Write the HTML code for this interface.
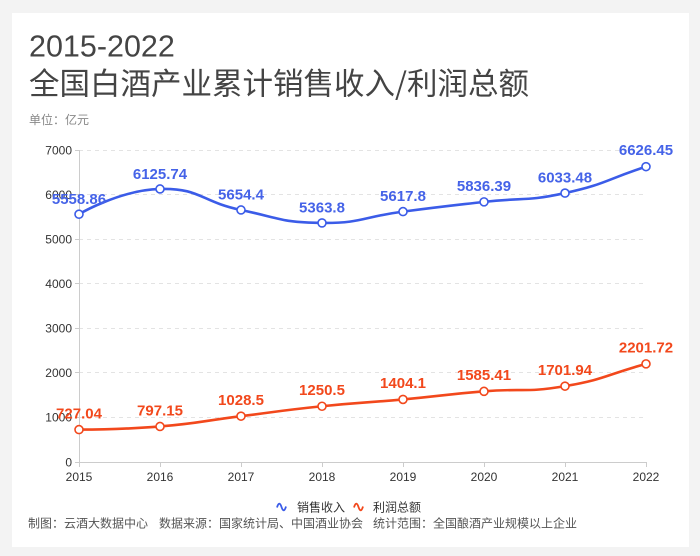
<!DOCTYPE html>
<html>
<head>
<meta charset="utf-8">
<style>
html,body{margin:0;padding:0;}
body{width:700px;height:556px;background:#f3f3f3;overflow:hidden;position:relative;}
.card{position:absolute;left:12px;top:13px;width:677px;height:534px;background:#ffffff;}
svg{position:absolute;left:0;top:0;}
text{font-family:"Liberation Sans","Noto Sans CJK SC",sans-serif;}
</style>
</head>
<body>
<div class="card"></div>
<svg width="700" height="556" viewBox="0 0 700 556" xmlns="http://www.w3.org/2000/svg">
  <!-- titles -->
  <text x="29" y="56.5" font-size="30.5" fill="#444444">2015-2022</text>
  <text x="29" y="94.5" font-size="30.5" fill="#444444" style="font-family:'Noto Sans CJK SC',sans-serif;">全国白酒产业累计销售收入/利润总额</text>
  <text x="29" y="124" font-size="12" fill="#888888">单位：亿元</text>

  <!-- grid -->
  <g stroke="#e3e3e3" stroke-width="1" stroke-dasharray="4,4" fill="none">
    <line x1="79" y1="150.5" x2="646" y2="150.5"/>
    <line x1="79" y1="194.5" x2="646" y2="194.5"/>
    <line x1="79" y1="239.5" x2="646" y2="239.5"/>
    <line x1="79" y1="283.5" x2="646" y2="283.5"/>
    <line x1="79" y1="328.5" x2="646" y2="328.5"/>
    <line x1="79" y1="372.5" x2="646" y2="372.5"/>
    <line x1="79" y1="417.5" x2="646" y2="417.5"/>
  </g>
  <!-- axes -->
  <g stroke="#cccccc" stroke-width="1" fill="none">
    <line x1="79.5" y1="150" x2="79.5" y2="462"/>
    <line x1="79" y1="462.5" x2="646.5" y2="462.5"/>
    <line x1="75" y1="150.5" x2="79" y2="150.5"/>
    <line x1="75" y1="194.5" x2="79" y2="194.5"/>
    <line x1="75" y1="239.5" x2="79" y2="239.5"/>
    <line x1="75" y1="283.5" x2="79" y2="283.5"/>
    <line x1="75" y1="328.5" x2="79" y2="328.5"/>
    <line x1="75" y1="372.5" x2="79" y2="372.5"/>
    <line x1="75" y1="417.5" x2="79" y2="417.5"/>
    <line x1="75" y1="462.5" x2="79" y2="462.5"/>
    <line x1="79.5" y1="462" x2="79.5" y2="467"/>
    <line x1="160.5" y1="462" x2="160.5" y2="467"/>
    <line x1="241.5" y1="462" x2="241.5" y2="467"/>
    <line x1="322.5" y1="462" x2="322.5" y2="467"/>
    <line x1="403.5" y1="462" x2="403.5" y2="467"/>
    <line x1="484.5" y1="462" x2="484.5" y2="467"/>
    <line x1="565.5" y1="462" x2="565.5" y2="467"/>
    <line x1="646.5" y1="462" x2="646.5" y2="467"/>
  </g>
  <!-- y labels -->
  <g font-size="12" fill="#333333" text-anchor="end">
    <text x="72" y="154.5">7000</text>
    <text x="72" y="199">6000</text>
    <text x="72" y="243.5">5000</text>
    <text x="72" y="288">4000</text>
    <text x="72" y="332.5">3000</text>
    <text x="72" y="377">2000</text>
    <text x="72" y="421.5">1000</text>
    <text x="72" y="466.5">0</text>
  </g>
  <!-- x labels -->
  <g font-size="12" fill="#333333" text-anchor="middle">
    <text x="79" y="481">2015</text>
    <text x="160" y="481">2016</text>
    <text x="241" y="481">2017</text>
    <text x="322" y="481">2018</text>
    <text x="403" y="481">2019</text>
    <text x="484" y="481">2020</text>
    <text x="565" y="481">2021</text>
    <text x="646" y="481">2022</text>
  </g>

  <!-- blue series -->
  <path d="M79,214.23 C79,214.23 119.5,190.03 160,188.97 C200.5,187.91 200.5,201.49 241,209.98 C281.5,218.47 281.5,222.52 322,222.93 C362.5,223.34 362.5,216.88 403,211.61 C443.5,206.34 443.5,206.50 484,201.87 C524.5,197.24 524.5,201.89 565,193.08 C605.5,184.27 605.5,179.86 646,166.65" fill="none" stroke="#3b5ce8" stroke-width="2.6" stroke-linejoin="round"/>
  <g fill="#ffffff" stroke="#3b5ce8" stroke-width="1.6">
    <circle cx="79" cy="214.23" r="4"/>
    <circle cx="160" cy="188.97" r="4"/>
    <circle cx="241" cy="209.98" r="4"/>
    <circle cx="322" cy="222.93" r="4"/>
    <circle cx="403" cy="211.61" r="4"/>
    <circle cx="484" cy="201.87" r="4"/>
    <circle cx="565" cy="193.08" r="4"/>
    <circle cx="646" cy="166.65" r="4"/>
  </g>
  <g font-size="15" font-weight="bold" fill="#4563e8" text-anchor="middle">
    <text x="79" y="204">5558.86</text>
    <text x="160" y="179">6125.74</text>
    <text x="241" y="199.5">5654.4</text>
    <text x="322" y="212.5">5363.8</text>
    <text x="403" y="201">5617.8</text>
    <text x="484" y="191">5836.39</text>
    <text x="565" y="182.5">6033.48</text>
    <text x="646" y="155">6626.45</text>
  </g>

  <!-- red series -->
  <path d="M79,429.60 C79,429.60 119.5,429.83 160,426.47 C200.5,423.11 200.5,421.21 241,416.16 C281.5,411.11 281.5,410.45 322,406.26 C362.5,402.07 362.5,403.15 403,399.42 C443.5,395.69 443.5,394.66 484,391.34 C524.5,388.02 524.5,393.01 565,386.14 C605.5,379.27 605.5,375.00 646,363.87" fill="none" stroke="#f2481c" stroke-width="2.6" stroke-linejoin="round"/>
  <g fill="#ffffff" stroke="#f2481c" stroke-width="1.6">
    <circle cx="79" cy="429.60" r="4"/>
    <circle cx="160" cy="426.47" r="4"/>
    <circle cx="241" cy="416.16" r="4"/>
    <circle cx="322" cy="406.26" r="4"/>
    <circle cx="403" cy="399.42" r="4"/>
    <circle cx="484" cy="391.34" r="4"/>
    <circle cx="565" cy="386.14" r="4"/>
    <circle cx="646" cy="363.87" r="4"/>
  </g>
  <g font-size="15" font-weight="bold" fill="#f2481c" text-anchor="middle">
    <text x="79" y="418.5">727.04</text>
    <text x="160" y="415.5">797.15</text>
    <text x="241" y="405">1028.5</text>
    <text x="322" y="395">1250.5</text>
    <text x="403" y="388">1404.1</text>
    <text x="484" y="380">1585.41</text>
    <text x="565" y="375">1701.94</text>
    <text x="646" y="352.5">2201.72</text>
  </g>

  <!-- legend -->
  <path d="M277,507.5 C278.5,502.5 280,502.5 281.5,507 S284.5,511.5 286,506.5" fill="none" stroke="#3b5ce8" stroke-width="1.8"/>
  <text x="297" y="511.5" font-size="12" fill="#333333">销售收入</text>
  <path d="M354,507.5 C355.5,502.5 357,502.5 358.5,507 S361.5,511.5 363,506.5" fill="none" stroke="#f2481c" stroke-width="1.8"/>
  <text x="373" y="511.5" font-size="12" fill="#333333">利润总额</text>

  <!-- footer -->
  <g font-size="12" fill="#555555">
    <text x="28" y="527.5">制图：云酒大数据中心</text>
    <text x="159" y="527.5">数据来源：国家统计局、中国酒业协会</text>
    <text x="373" y="527.5">统计范围：全国酿酒产业规模以上企业</text>
  </g>
</svg>
</body>
</html>
